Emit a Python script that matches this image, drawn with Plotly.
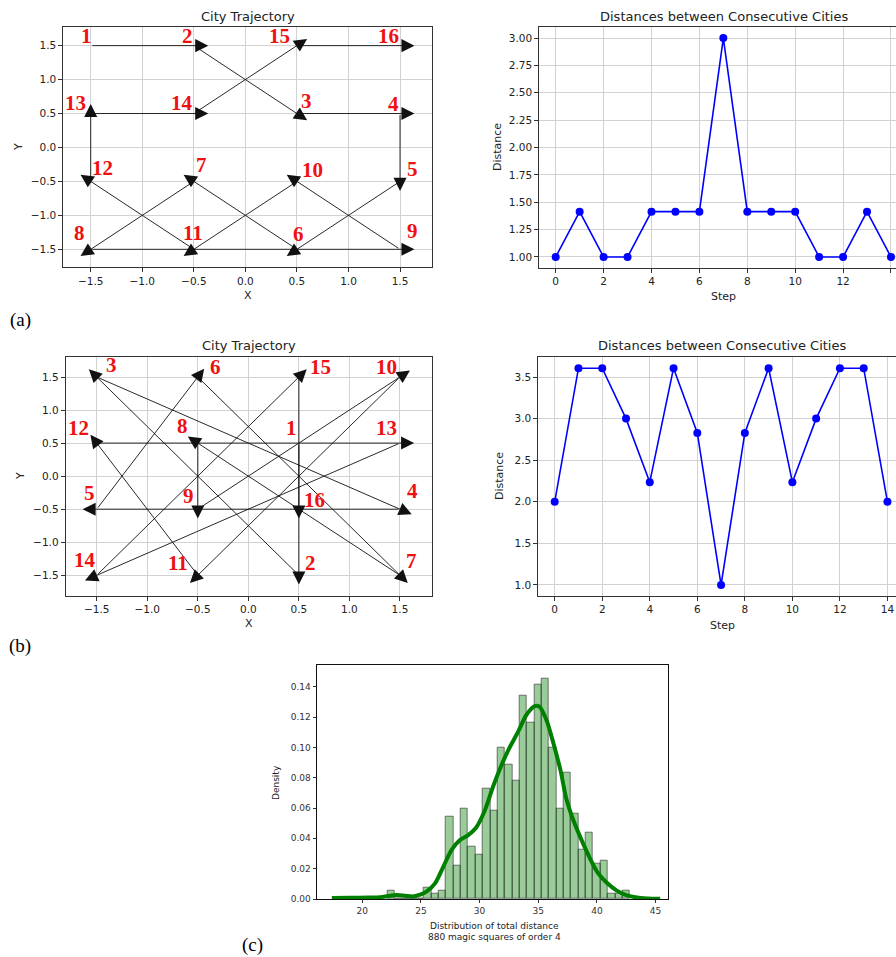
import math
import plotly.graph_objects as go

# ---------------- data ----------------
# visiting order of the 16 cities (a) and (b)
route_a_x = [-1.5, -0.5, 0.5, 1.5, 1.5, 0.5, -0.5, -1.5, 1.5, 0.5, -0.5, -1.5, -1.5, -0.5, 0.5, 1.5]
route_a_y = [1.5, 1.5, 0.5, 0.5, -0.5, -1.5, -0.5, -1.5, -1.5, -0.5, -1.5, -0.5, 0.5, 0.5, 1.5, 1.5]
route_b_x = [0.5, 0.5, -1.5, 1.5, -1.5, -0.5, 1.5, -0.5, -0.5, 1.5, -0.5, -1.5, 1.5, -1.5, 0.5, 0.5]
route_b_y = [0.5, -1.5, 1.5, -0.5, -0.5, 1.5, -1.5, 0.5, -0.5, 1.5, -1.5, 0.5, 0.5, -1.5, 1.5, -0.5]

steps = list(range(15))
dist_a = [1.0, 1.414, 1.0, 1.0, 1.414, 1.414, 1.414, 3.0, 1.414, 1.414, 1.414, 1.0, 1.0, 1.414, 1.0]
dist_b = [2.0, 3.606, 3.606, 3.0, 2.236, 3.606, 2.828, 1.0, 2.828, 3.606, 2.236, 3.0, 3.606, 3.606, 2.0]

hist_bin_start = 22.13
hist_bin_width = 0.627
hist_counts = [3, 0, 0, 0, 0, 4, 2, 3, 30, 12, 33, 19, 16, 40, 32, 55, 49, 43, 74, 64,
               78, 80, 55, 33, 46, 31, 18, 24, 13, 14, 2, 2, 3]
n_squares = 880

kde_x = [17.4, 19.0, 20.5, 21.5, 22.4, 22.9, 23.6, 24.3, 25.0, 25.5, 26.2, 26.9, 27.6, 28.3,
         29.0, 29.7, 30.4, 31.1, 31.8, 32.5, 33.3, 34.0, 34.7, 35.1, 35.7, 36.3, 36.9, 37.4,
         38.0, 38.7, 39.4, 40.1, 40.8, 41.7, 42.5, 43.4, 44.3, 45.4]
kde_y = [0.0007, 0.0008, 0.0010, 0.0012, 0.0022, 0.0026, 0.0022, 0.0017, 0.0030, 0.0050,
         0.0103, 0.0212, 0.0322, 0.0388, 0.0420, 0.0470, 0.0575, 0.0730, 0.0870, 0.0990,
         0.1105, 0.1215, 0.1272, 0.1268, 0.1180, 0.1025, 0.0848, 0.0660, 0.0519, 0.0388,
         0.0270, 0.0170, 0.0110, 0.0055, 0.0026, 0.0010, 0.0004, 0.0002]

traj_ticks = [-1.5, -1.0, -0.5, 0.0, 0.5, 1.0, 1.5]
step_ticks = [0, 2, 4, 6, 8, 10, 12, 14]
dist_a_ticks = [1.0, 1.25, 1.5, 1.75, 2.0, 2.25, 2.5, 2.75, 3.0]
dist_b_ticks = [1.0, 1.5, 2.0, 2.5, 3.0, 3.5]
hist_x_ticks = [20, 25, 30, 35, 40, 45]
hist_y_ticks = [0.0, 0.02, 0.04, 0.06, 0.08, 0.10, 0.12, 0.14]

# ---------------- style / layout ----------------
W, H = 896, 957
HEAD_LEN = 0.14
# pixel nudges of the red city numbers (right, up), per visiting index
label_nudge_a = [(-4, 8), (-6, 8), (10, 11), (-7, 8), (12, 10), (2, 13), (8, 14), (-11, 14),
                 (12, 16), (16, 9), (-1, 14), (12, 11), (-15, 9), (-12, 9), (-17, 8), (-12, 8)]
label_nudge_b = [(-7, 13), (12, 10), (15, 10), (13, 16), (-7, 14), (18, 8), (12, 12), (-15, 15),
                 (-9, 11), (-13, 8), (-20, 10), (-18, 13), (-13, 13), (-12, 13), (22, 8), (16, 7)]


def px(p):
    return p / W


def py(p):
    return 1 - p / H


SANS = "DejaVu Sans"
SERIF = "Liberation Serif"
TXT = "#222222"
GRID = "#d2d2d2"

fig = go.Figure()
annotations = []


def add_route(xs, ys, xa, ya, nudges):
    for i in range(len(xs) - 1):
        x0, y0, x1, y1 = xs[i], ys[i], xs[i + 1], ys[i + 1]
        dx, dy = x1 - x0, y1 - y0
        L = math.hypot(dx, dy)
        annotations.append(dict(
            x=x1 + HEAD_LEN * dx / L, y=y1 + HEAD_LEN * dy / L, ax=x0, ay=y0,
            xref=xa, yref=ya, axref=xa, ayref=ya, text="", showarrow=True,
            arrowhead=2, arrowsize=2.9, arrowwidth=0.9, arrowcolor="#111111", standoff=0))
    for i, (x, y) in enumerate(zip(xs, ys)):
        nx, ny = nudges[i]
        annotations.append(dict(
            x=x, y=y, xref=xa, yref=ya, text=str(i + 1), showarrow=False,
            xshift=nx, yshift=ny + 2,
            font=dict(family=SERIF, size=21, color="#ee1111", weight="bold")))


# invisible city markers to give the trajectory axes content
fig.add_trace(go.Scatter(x=route_a_x, y=route_a_y, mode="markers", marker=dict(size=1, opacity=0),
                         xaxis="x", yaxis="y", showlegend=False, hoverinfo="skip"))
fig.add_trace(go.Scatter(x=route_b_x, y=route_b_y, mode="markers", marker=dict(size=1, opacity=0),
                         xaxis="x3", yaxis="y3", showlegend=False, hoverinfo="skip"))
add_route(route_a_x, route_a_y, "x", "y", label_nudge_a)
add_route(route_b_x, route_b_y, "x3", "y3", label_nudge_b)

# distances
fig.add_trace(go.Scatter(x=steps, y=dist_a, mode="lines+markers", xaxis="x2", yaxis="y2",
                         line=dict(color="#0000ff", width=1.6), marker=dict(size=8, color="#0000ff"),
                         showlegend=False, cliponaxis=False))
fig.add_trace(go.Scatter(x=steps, y=dist_b, mode="lines+markers", xaxis="x4", yaxis="y4",
                         line=dict(color="#0000ff", width=1.6), marker=dict(size=8, color="#0000ff"),
                         showlegend=False, cliponaxis=False))

# histogram (density) + kde
centers = [hist_bin_start + hist_bin_width * (i + 0.5) for i in range(len(hist_counts))]
density = [c / (n_squares * hist_bin_width) for c in hist_counts]
fig.add_trace(go.Bar(x=centers, y=density, width=hist_bin_width, xaxis="x5", yaxis="y5",
                     marker=dict(color="rgba(0,128,0,0.4)", line=dict(color="rgba(40,40,40,0.6)", width=1)),
                     showlegend=False))
fig.add_trace(go.Scatter(x=kde_x, y=kde_y, mode="lines", xaxis="x5", yaxis="y5",
                         line=dict(color="#008000", width=4, shape="spline", smoothing=0.8),
                         showlegend=False))

base_axis = dict(showline=True, linecolor="#333333", linewidth=1, mirror=True, ticks="outside",
                 ticklen=4, tickcolor="#333333", tickwidth=1, showgrid=True, gridcolor=GRID,
                 gridwidth=1, zeroline=False, automargin=False,
                 tickfont=dict(family=SANS, size=10.5, color=TXT))


def ax(**kw):
    d = dict(base_axis)
    d.update(kw)
    return d


layout = dict(
    width=W, height=H, margin=dict(l=0, r=0, t=0, b=0),
    paper_bgcolor="white", plot_bgcolor="white", template="none", showlegend=False,
    bargap=0,
    xaxis=ax(domain=[px(63.3), px(432.3)], range=[-1.766, 1.813], tickvals=traj_ticks,
             tickformat=".1f", anchor="y"),
    yaxis=ax(domain=[py(267.3), py(27.3)], range=[-1.765, 1.77], tickvals=traj_ticks,
             tickformat=".1f", anchor="x"),
    xaxis2=ax(domain=[px(539.3), px(896)], range=[-0.685, 14.21], tickvals=step_ticks, anchor="y2"),
    yaxis2=ax(domain=[py(267.7), py(27.3)], range=[0.902, 3.098], tickvals=dist_a_ticks,
              tickformat=".2f", anchor="x2", mirror=False),
    xaxis3=ax(domain=[px(65.7), px(432.3)], range=[-1.807, 1.82], tickvals=traj_ticks,
              tickformat=".1f", anchor="y3"),
    yaxis3=ax(domain=[py(595.7), py(357.3)], range=[-1.809, 1.798], tickvals=traj_ticks,
              tickformat=".1f", anchor="x3"),
    xaxis4=ax(domain=[px(538.3), px(896)], range=[-0.69, 14.36], tickvals=step_ticks, anchor="y4"),
    yaxis4=ax(domain=[py(595.7), py(357.3)], range=[0.871, 3.737], tickvals=dist_b_ticks,
              tickformat=".1f", anchor="x4", mirror=False),
    xaxis5=ax(domain=[px(316.7), px(667.7)], range=[16.11, 46.04], tickvals=hist_x_ticks,
              anchor="y5", showgrid=False, linecolor="#111111", linewidth=1.3, ticklen=3,
              tickfont=dict(family=SANS, size=9, color="#333333")),
    yaxis5=ax(domain=[py(899), py(664.7)], range=[0, 0.1545], tickvals=hist_y_ticks,
              tickformat=".2f", anchor="x5", showgrid=False, linecolor="#111111", linewidth=1.3,
              ticklen=3, tickfont=dict(family=SANS, size=9, color="#333333")),
)


def text_ann(x, y, text, size, family=SANS, color=TXT, angle=0):
    annotations.append(dict(x=px(x), y=py(y), xref="paper", yref="paper", text=text,
                            showarrow=False, xanchor="center", yanchor="middle", textangle=angle,
                            font=dict(family=family, size=size, color=color)))


# titles
text_ann(247.8, 16, "City Trajectory", 13)
text_ann(723.5, 16, "Distances between Consecutive Cities", 13)
text_ann(249, 346, "City Trajectory", 13)
text_ann(722, 346, "Distances between Consecutive Cities", 13)
# axis titles
text_ann(247.8, 295, "X", 11)
text_ann(18, 147, "Y", 11, angle=-90)
text_ann(723.5, 296, "Step", 11)
text_ann(497, 147, "Distance", 11, angle=-90)
text_ann(249, 623, "X", 11)
text_ann(20, 476, "Y", 11, angle=-90)
text_ann(722, 625, "Step", 11)
text_ann(499, 476, "Distance", 11, angle=-90)
text_ann(276, 783, "Density", 9, angle=-90)
text_ann(495, 926, "Distribution of total distance", 9)
text_ann(495, 937, "880 magic squares of order 4", 9)
# panel letters
text_ann(20, 320, "(a)", 19, family=SERIF, color="black")
text_ann(19.5, 646, "(b)", 19, family=SERIF, color="black")
text_ann(252, 945, "(c)", 19, family=SERIF, color="black")

layout["annotations"] = annotations
fig.update_layout(**layout)

fig.write_html("out.html", config={"displayModeBar": False},
               post_script="document.body.style.margin='0';")
